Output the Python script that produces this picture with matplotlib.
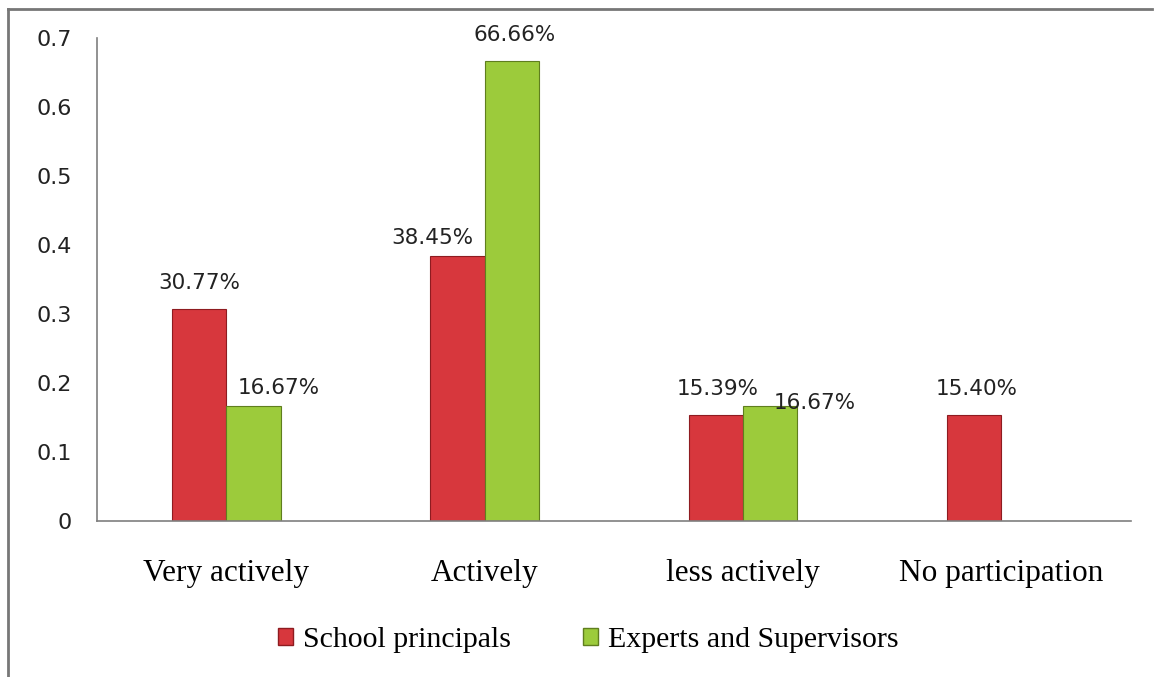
import matplotlib.pyplot as plt
from matplotlib.lines import Line2D
from matplotlib.patches import Patch
import numpy as np

categories = ['Very actively', 'Actively', 'less actively', 'No participation']
principals = [0.3077, 0.3845, 0.1539, 0.1540]
experts = [0.1667, 0.6666, 0.1667, 0.0]
principal_labels = ['30.77%', '38.45%', '15.39%', '15.40%']
expert_labels = ['16.67%', '66.66%', '16.67%', None]

# label nudges in pixels (dx, dy) from the top centre of each bar
principal_offsets = [(0, 26), (-25, 18), (2, 26), (2, 26)]
expert_offsets = [(25, 18), (3, 26), (45, 3), (0, 0)]

red, red_edge = '#D7373D', '#8E1B20'
green, green_edge = '#9CCB3B', '#5F7E1E'

fig = plt.figure(figsize=(11.56, 6.77), dpi=100)
ax = fig.add_axes([0.084, 0.2304, 0.894, 0.7135])

x = np.arange(len(categories))
w = 0.21
b1 = ax.bar(x - w, principals, w, align='edge', color=red, edgecolor=red_edge, linewidth=0.8)
b2 = ax.bar(x, experts, w, align='edge', color=green, edgecolor=green_edge, linewidth=0.8)

for bars, labels, offs in [(b1, principal_labels, principal_offsets),
                           (b2, expert_labels, expert_offsets)]:
    for bar, lab, (dx, dy) in zip(bars, labels, offs):
        if lab is None:
            continue
        ax.annotate(lab, (bar.get_x() + bar.get_width() / 2, bar.get_height()),
                    xytext=(dx, dy), textcoords='offset pixels',
                    ha='center', va='center', fontsize=15.5, color='#222222')

ax.set_xlim(-0.5, 3.5)
ax.set_ylim(0, 0.7)
ax.set_yticks(np.arange(0, 0.71, 0.1))
ax.set_yticklabels(['0'] + ['%.1f' % v for v in np.arange(0.1, 0.71, 0.1)])
ax.set_xticks(x)
ax.set_xticklabels(categories, family='Liberation Serif', fontsize=22.5)
ax.tick_params(axis='y', length=0, pad=18, labelsize=16, labelcolor='#222222')
ax.tick_params(axis='x', length=0, pad=27)
for s in ['top', 'right']:
    ax.spines[s].set_visible(False)
for s in ['left', 'bottom']:
    ax.spines[s].set_color('#7f7f7f')
    ax.spines[s].set_linewidth(1.2)

handles = [Patch(facecolor=red, edgecolor=red_edge), Patch(facecolor=green, edgecolor=green_edge)]
fig.legend(handles, ['School principals', 'Experts and Supervisors'],
           loc='center', bbox_to_anchor=(0.509, 0.054), ncol=2, frameon=False,
           prop={'family': 'Liberation Serif', 'size': 21.5},
           handlelength=0.5, handleheight=0.5, handletextpad=0.35, columnspacing=2.4)

# outer frame, left and top edges
fig.add_artist(Line2D([8 / 1156, 8 / 1156], [0, 1 - 9 / 677], transform=fig.transFigure,
                      color='#777777', lw=2))
fig.add_artist(Line2D([8 / 1156, 1152 / 1156], [1 - 9 / 677, 1 - 9 / 677],
                      transform=fig.transFigure, color='#777777', lw=2))

fig.savefig('out.png', dpi=100)
